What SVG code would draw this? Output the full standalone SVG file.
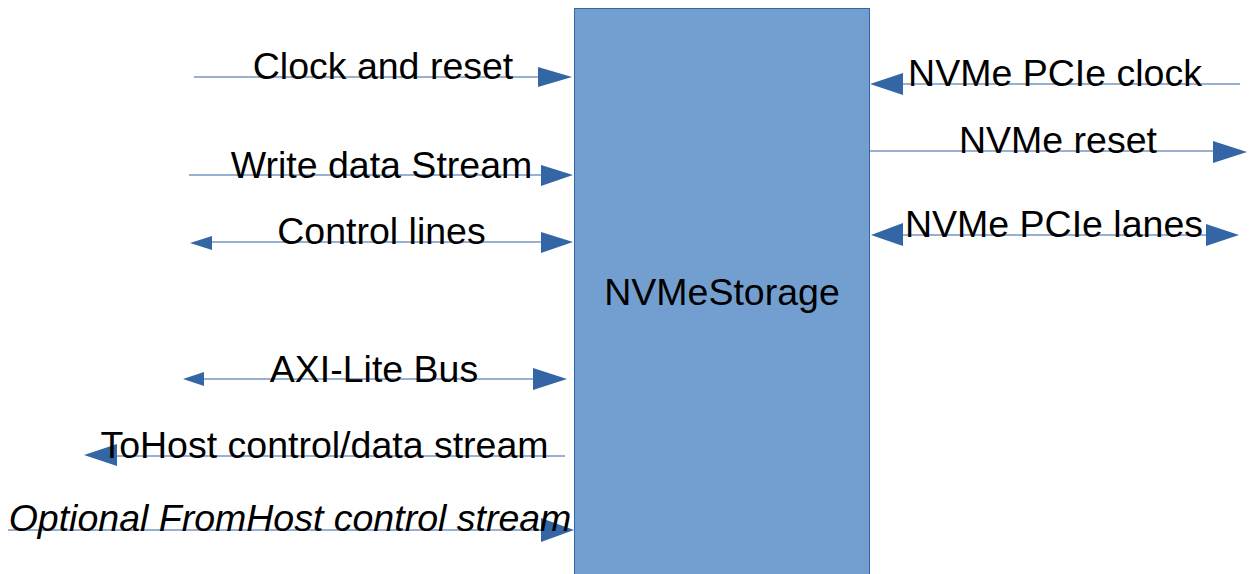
<svg xmlns="http://www.w3.org/2000/svg" width="1251" height="574" viewBox="0 0 1251 574">
<style>
.ln{stroke:#3465a4;stroke-width:1;fill:none}
.ah{fill:#3465a4;stroke:none}
.t{font-family:"Liberation Sans",Arial,sans-serif;font-size:37.5px;fill:#000;text-anchor:middle}
.it{font-style:italic}
</style>
<rect width="1251" height="574" fill="#fff"/>
<g id="node-nvmestorage">
<rect x="574.5" y="8.5" width="295" height="570" fill="#729fcf" stroke="#3465a4" stroke-width="1"/>
<text class="t" x="722" y="305">NVMeStorage</text>
</g>
<g id="connectors">
<line class="ln" x1="194" y1="77" x2="545" y2="77"/>
<polygon class="ah" points="572,77 538,67 538,87"/>
<line class="ln" x1="189" y1="175" x2="545" y2="175"/>
<polygon class="ah" points="573,175 541,165 541,186"/>
<line class="ln" x1="205" y1="242" x2="545" y2="242"/>
<polygon class="ah" points="190,243 212,236 212,250"/>
<polygon class="ah" points="573,242 541,232 541,253"/>
<line class="ln" x1="198" y1="379" x2="540" y2="379"/>
<polygon class="ah" points="183,379 204,372 204,386"/>
<polygon class="ah" points="567,379 533,368 533,390"/>
<line class="ln" x1="110" y1="456" x2="565" y2="456"/>
<polygon class="ah" points="84,455 117,444 117,466"/>
<line class="ln" x1="8" y1="530" x2="545" y2="530"/>
<polygon class="ah" points="574,530 541,518 541,542"/>
<line class="ln" x1="895" y1="84" x2="1240" y2="84"/>
<polygon class="ah" points="870,84 903,73 903,95"/>
<line class="ln" x1="870" y1="151" x2="1220" y2="151"/>
<polygon class="ah" points="1247,152 1213,141 1213,163"/>
<line class="ln" x1="895" y1="235" x2="1215" y2="235"/>
<polygon class="ah" points="871,235 903,223 903,246"/>
<polygon class="ah" points="1239,235 1206,224 1206,246"/>
</g>
<g id="labels">
<text class="t" x="383" y="79">Clock and reset</text>
<text class="t" x="381.5" y="178">Write data Stream</text>
<text class="t" x="381.5" y="244">Control lines</text>
<text class="t" x="374" y="382">AXI-Lite Bus</text>
<text class="t" x="324.5" y="458">ToHost control/data stream</text>
<text class="t it" x="290" y="531">Optional FromHost control stream</text>
<text class="t" x="1055" y="86">NVMe PCIe clock</text>
<text class="t" x="1058" y="153">NVMe reset</text>
<text class="t" x="1054" y="237">NVMe PCIe lanes</text>
</g>
</svg>
